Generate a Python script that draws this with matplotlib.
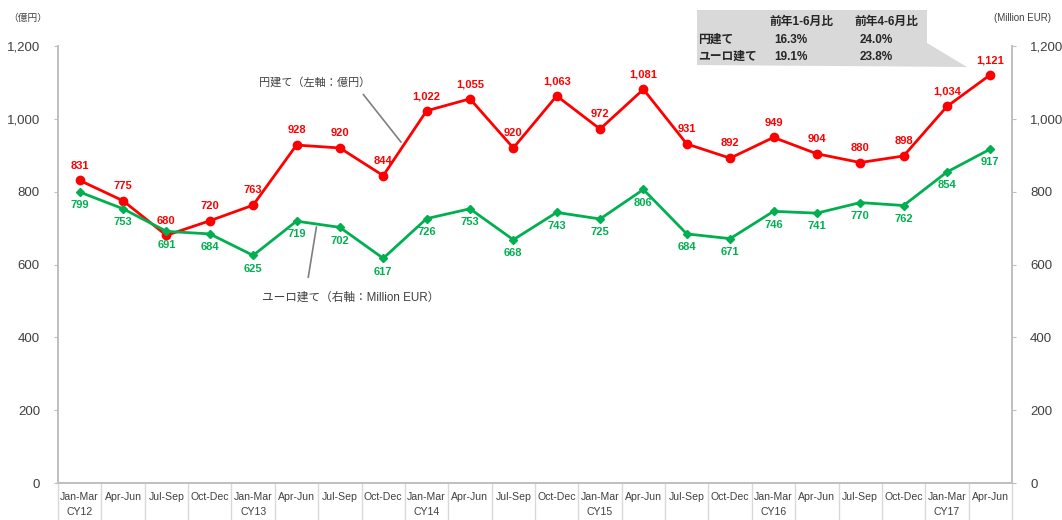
import matplotlib.pyplot as plt
from matplotlib.patches import Polygon
from matplotlib.transforms import blended_transform_factory
import numpy as np

plt.rcParams['font.family'] = ['Liberation Sans', 'Noto Sans CJK JP', 'DejaVu Sans']

# quarter labels and year labels (year shown under each Jan-Mar)
quarters = ['Jan-Mar', 'Apr-Jun', 'Jul-Sep', 'Oct-Dec'] * 5 + ['Jan-Mar', 'Apr-Jun']
years = ['CY12', 'CY13', 'CY14', 'CY15', 'CY16', 'CY17']

# yen based sales (left axis, 100 million yen)
yen = [831, 775, 680, 720, 763, 928, 920, 844, 1022, 1055, 920,
       1063, 972, 1081, 931, 892, 949, 904, 880, 898, 1034, 1121]
# euro based sales (right axis, million EUR)
eur = [799, 753, 691, 684, 625, 719, 702, 617, 726, 753, 668,
       743, 725, 806, 684, 671, 746, 741, 770, 762, 854, 917]

yticks = [0, 200, 400, 600, 800, 1000, 1200]

# growth table in the callout box
tbl_header = ['前年1-6月比', '前年4-6月比']
tbl_rows = ['円建て', 'ユーロ建て']
tbl_vals = [['16.3%', '24.0%'], ['19.1%', '23.8%']]

RED = '#FF0000'
GREEN = '#00B050'
AXC = '#BFBFBF'
TXT = '#404040'

W, H = 1062, 520
fig = plt.figure(figsize=(W / 100, H / 100), dpi=100)
ax = fig.add_axes([58 / W, 37 / H, (1012 - 58) / W, (483 - 46) / H])
ax2 = ax.twinx()

x = np.arange(len(yen))
n = len(x)

ax.plot(x, yen, color=RED, lw=2, marker='o', ms=6, zorder=3)
ax2.plot(x, eur, color=GREEN, lw=2, marker='D', ms=4.5, zorder=3)

for xi, v in zip(x, yen):
    ax.annotate(f'{v:,}', (xi, v), xytext=(0, 7), textcoords='offset points',
                ha='center', va='bottom', color=RED, fontsize=8, fontweight='bold')
for xi, v in zip(x, eur):
    ax2.annotate(f'{v:,}', (xi, v), xytext=(0, -6), textcoords='offset points',
                 ha='center', va='top', color=GREEN, fontsize=8, fontweight='bold')

for a in (ax, ax2):
    a.set_xlim(-0.5, n - 0.5)
    a.set_ylim(0, 1200)
    a.set_yticks(yticks)
    a.set_yticklabels([f'{t:,}' for t in yticks])
    a.tick_params(axis='y', length=3, color=AXC, labelcolor=TXT, labelsize=9.5, pad=10)
    a.spines['top'].set_visible(False)
    for s in ('left', 'right', 'bottom'):
        a.spines[s].set_color(AXC)
        a.spines[s].set_linewidth(1.2)

ax.set_xticks([])
ax2.set_xticks([])

# two-row category labels with separators
tr = blended_transform_factory(ax.transData, ax.transAxes)
for i, q in enumerate(quarters):
    ax.text(i, -0.032, q, transform=tr, ha='center', va='center', fontsize=7.6,
            color=TXT, clip_on=False)
for j, yl in enumerate(years):
    ax.text(4 * j, -0.066, yl, transform=tr, ha='center', va='center', fontsize=7.6,
            color=TXT, clip_on=False)
for k in range(n + 1):
    ax.plot([k - 0.5, k - 0.5], [0, -0.09], transform=tr, color='#D9D9D9', lw=1,
            clip_on=False)

# axis unit labels
fig.text(28 / W, 1 - 18 / H, '（億円）', ha='center', va='center', fontsize=7, color=TXT)
fig.text(1023 / W, 1 - 18 / H, '(Million EUR)', ha='center', va='center', fontsize=7,
         color=TXT)

# series callouts
ax.annotate('', xy=(7.45, 930), xytext=(6.5, 1073),
            arrowprops=dict(arrowstyle='-', color='#7F7F7F', lw=1.2))
ax.text(5.42, 1101, '円建て（左軸：億円）', ha='center', va='center', fontsize=8, color=TXT)
ax.annotate('', xy=(5.47, 711), xytext=(5.26, 557),
            arrowprops=dict(arrowstyle='-', color='#7F7F7F', lw=1.2))
ax.text(6.25, 508, 'ユーロ建て（右軸：Million EUR）', ha='center', va='center', fontsize=8.4,
        color=TXT)

# growth table callout box
pts = [(697, 10), (927, 10), (927, 43), (967, 67), (697, 65)]
box = Polygon([(px / W, 1 - py / H) for px, py in pts], closed=True,
              transform=fig.transFigure, facecolor='#D9D9D9', edgecolor='none')
fig.patches.append(box)
hx = [801, 886]
for hxi, h in zip(hx, tbl_header):
    fig.text(hxi / W, 1 - 22 / H, h, ha='center', va='center', fontsize=8.5,
             fontweight='bold', color='#262626')
for r, (lab, vals) in enumerate(zip(tbl_rows, tbl_vals)):
    yy = 1 - (40 + r * 17) / H
    fig.text(698 / W, yy, lab, ha='left', va='center', fontsize=8.5, fontweight='bold',
             color='#262626')
    for hxi, v in zip(hx, vals):
        fig.text((hxi - 10) / W, yy, v, ha='center', va='center', fontsize=8.5,
                 fontweight='bold', color='#262626')

fig.savefig('out.png', dpi=100)
